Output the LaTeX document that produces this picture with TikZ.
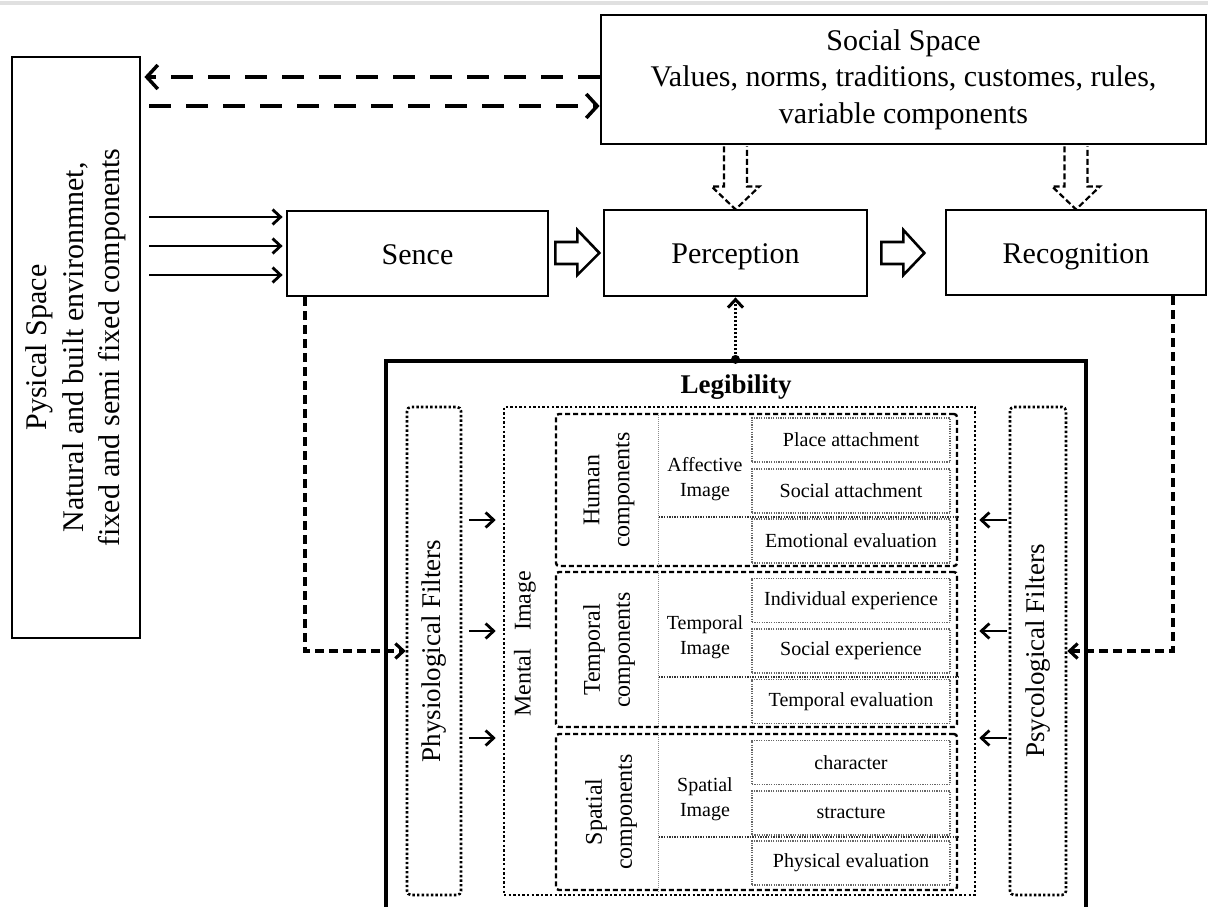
\documentclass[tikz,border=0pt]{standalone}
\usepackage{fontspec}
\setmainfont{Liberation Serif}
\usetikzlibrary{arrows.meta,calc}
\newcommand\fBig{\fontsize{30pt}{36.5pt}\selectfont}
\newcommand\fLeg{\fontsize{27pt}{32pt}\selectfont\bfseries}
\newcommand\fFil{\fontsize{27pt}{32pt}\selectfont}
\newcommand\fComp{\fontsize{24pt}{30pt}\selectfont}
\newcommand\fSmall{\fontsize{20pt}{25pt}\selectfont}
\begin{document}
\begin{tikzpicture}[x=1pt,y=-1pt,
  mainbox/.style={draw, line width=2.8, inner sep=0, align=center, font=\fBig},
  onebox/.style={mainbox, text height=27pt, text depth=6pt},
  legbox/.style={draw, line width=3.2, inner sep=0},
  filterbox/.style={draw, line width=2.6, dash pattern=on 2.4pt off 2.2pt, rounded corners=4, inner sep=0, align=center, font=\fFil},
  mentalbox/.style={draw, line width=2.6, dash pattern=on 2.4pt off 2.2pt, inner sep=0},
  compbox/.style={draw, line width=2.4, dash pattern=on 5pt off 3pt, rounded corners=3, inner sep=0},
  itembox/.style={draw=black!60, line width=1.5, dash pattern=on 1.2pt off 1.2pt, inner sep=0, minimum width=198, minimum height=44, font=\fSmall},
  coldiv/.style={draw=black!45, line width=1, dash pattern=on 1pt off 1pt},
  rowdiv/.style={draw=black!80, line width=1.6, dash pattern=on 1.3pt off 1.3pt},
  complabel/.style={rotate=90, align=center, font=\fComp},
  imglabel/.style={align=center, font=\fSmall},
  bigdash/.style={line width=4.2, dash pattern=on 22pt off 15pt, -{Straight Barb[length=11pt,width=24pt,line width=3.5pt]}},
  solarr/.style={line width=2.8, -{Straight Barb[length=8pt,width=15pt]}},
  meddash/.style={line width=3.2, dash pattern=on 9pt off 5pt, -{Straight Barb[length=8pt,width=15pt]}},
  dotarr/.style={line width=3, dash pattern=on 2pt off 2pt, -{Straight Barb[length=8pt,width=15pt]}},
  hollow/.style={draw, line width=2.6, fill=white, line join=miter},
  dhollow/.style={draw, line width=2.2, fill=white, dash pattern=on 6pt off 3pt, line join=miter}
]
\path[use as bounding box] (0,0) rectangle (1208,907);
\clip (0,0) rectangle (1208,907);
\fill[white] (0,0) rectangle (1208,907);
\draw[black!12, line width=4] (0,3) -- (1208,3);

% main boxes
\node[mainbox, rotate=90, minimum width=581, minimum height=128] (phys) at (76,347.5)
  {Pysical Space\\Natural and built environmnet,\\fixed and semi fixed components};
\node[mainbox, minimum width=605, minimum height=129] (social) at (903.5,79.5)
  {Social Space\\Values, norms, traditions, customes, rules,\\variable components};
\node[onebox, minimum width=261, minimum height=85] (sence) at (417.5,253.5) {Sence};
\node[onebox, minimum width=263, minimum height=86] (perc) at (735.5,253) {Perception};
\node[onebox, minimum width=260, minimum height=85] (recog) at (1076,252.5) {Recognition};

% legibility block
\node[legbox, minimum width=700, minimum height=600] (legib) at (736,661) {};
\node[font=\fLeg, inner sep=0] (legt) at (736,387) {Legibility};
\node[filterbox, rotate=90, minimum width=488, minimum height=54] (physf) at (434,651) {Physiological Filters};
\node[mentalbox, minimum width=471, minimum height=488] (mental) at (739.5,651) {};
\node[complabel] (mentalt) at (525,644) {Mental\ \ \ Image};
\node[filterbox, rotate=90, minimum width=488, minimum height=56] (psyf) at (1038,651) {Psycological Filters};

% component boxes
\node[compbox, minimum width=401, minimum height=152] (human) at (756.5,490) {};
\node[compbox, minimum width=401, minimum height=155] (temp) at (756.5,649.5) {};
\node[compbox, minimum width=401, minimum height=156] (spat) at (756.5,812) {};

\draw[coldiv] ($(human.north west)+(104,0)$) -- ($(human.south west)+(104,0)$);
\draw[coldiv] ($(temp.north west)+(104,0)$) -- ($(temp.south west)+(104,0)$);
\draw[coldiv] ($(spat.north west)+(104,0)$) -- ($(spat.south west)+(104,0)$);
\draw[rowdiv] ($(human.west)+(104,27)$) -- ($(human.east)+(0,27)$);
\draw[rowdiv] ($(temp.west)+(104,27.5)$) -- ($(temp.east)+(0,27.5)$);
\draw[rowdiv] ($(spat.west)+(104,25)$) -- ($(spat.east)+(0,25)$);

\node[complabel] (humant) at (609,490) {Human\\components};
\node[complabel] (tempt) at (609,650) {Temporal\\components};
\node[complabel] (spatt) at (611,812) {Spatial\\components};

\node[imglabel] (affi) at (705,479) {Affective\\Image};
\node[imglabel] (tempi) at (705,637) {Temporal\\Image};
\node[imglabel] (spati) at (705,799) {Spatial\\Image};

\node[itembox] (i1) at (851,440) {Place attachment};
\node[itembox] (i2) at (851,491) {Social attachment};
\node[itembox] (i3) at (851,541) {Emotional evaluation};
\node[itembox] (i4) at (851,600.5) {Individual experience};
\node[itembox] (i5) at (851,651) {Social experience};
\node[itembox] (i6) at (851,701.5) {Temporal evaluation};
\node[itembox] (i7) at (851,762.5) {character};
\node[itembox] (i8) at (851,813) {stracture};
\node[itembox] (i9) at (851,863) {Physical evaluation};

% connectors
\coordinate (ya) at (0,77);
\coordinate (yb) at (0,106);
\draw[bigdash] (social.west |- ya) -- ([xshift=3pt]phys.south |- ya);
\draw[bigdash, shorten <=8pt] (phys.south |- yb) -- (social.west |- yb);

\coordinate (s1) at (0,217);
\coordinate (s2) at (0,246);
\coordinate (s3) at (0,275);
\foreach \c in {s1,s2,s3}
  \draw[solarr, shorten <=8pt, shorten >=3pt] (phys.south |- \c) -- (sence.west |- \c);

\coordinate (sx) at (305,0);
\coordinate (rx) at (1173,0);
\draw[meddash] (sence.south -| sx) |- (physf.north);
\draw[meddash] (recog.south -| rx) |- (psyf.south);

\coordinate (ldot) at (perc.south |- legib.north);
\draw[dotarr, shorten <=5pt] (ldot) -- (perc.south);
\fill (ldot) circle (4.5);

\coordinate (m1) at (0,520);
\coordinate (m2) at (0,631);
\coordinate (m3) at (0,738);
\foreach \c in {m1,m2,m3}{
  \draw[solarr, shorten <=7pt, shorten >=7pt] (physf.south |- \c) -- (mental.west |- \c);
  \draw[solarr, shorten <=2pt, shorten >=3pt] (psyf.north |- \c) -- (mental.east |- \c);
}

% hollow block arrows
\draw[hollow] ($(sence.east)+(6,-0.5)$) ++(0,-11) -- ++(22,0) -- ++(0,-12) -- ++(22,23) -- ++(-22,22) -- ++(0,-11) -- ++(-22,0) -- cycle;
\draw[hollow] ($(perc.east)+(13,0)$) ++(0,-11) -- ++(22,0) -- ++(0,-12) -- ++(21,23) -- ++(-21,22) -- ++(0,-11) -- ++(-22,0) -- cycle;

\coordinate (d1) at (perc.north |- social.south);
\coordinate (d2) at (recog.north |- social.south);
\foreach \d in {d1,d2}
  \draw[dhollow] (\d) ++(-11.5,1) -- ++(0,40) -- ++(-12.5,0) -- ++(24,23) -- ++(24,-23) -- ++(-12.5,0) -- ++(0,-40);
\end{tikzpicture}
\end{document}
